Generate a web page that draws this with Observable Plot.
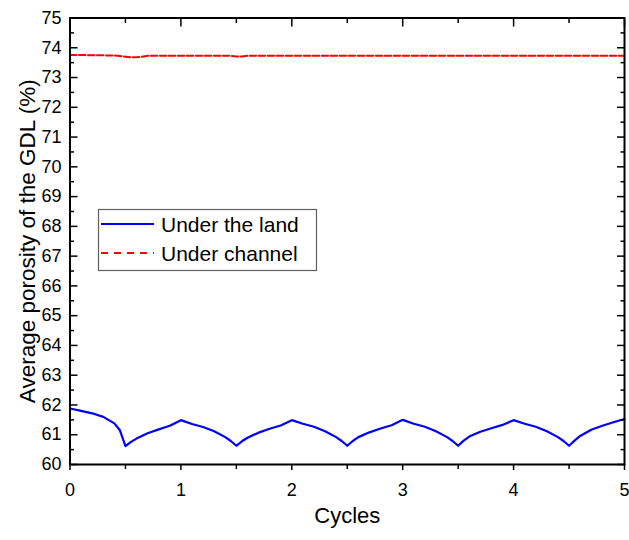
<!DOCTYPE html>
<html>
<head>
<meta charset="utf-8">
<script src="https://cdn.jsdelivr.net/npm/d3@7"></script>
<script src="https://cdn.jsdelivr.net/npm/@observablehq/plot@0.6"></script>
<style>
  html, body { margin: 0; padding: 0; background: #fff; }
  #chart { position: relative; width: 629px; height: 540px; }
</style>
</head>
<body>
<div id="chart"></div>
<script>
// Average GDL porosity over compression cycles
const landCycles = [
  0, 0.1, 0.2, 0.3, 0.4, 0.45, 0.5, 0.55, 0.6, 0.7, 0.8, 0.9,
  1.0, 1.1, 1.2, 1.3, 1.4, 1.45, 1.5, 1.55, 1.6, 1.7, 1.8, 1.9,
  2.0, 2.1, 2.2, 2.3, 2.4, 2.45, 2.5, 2.55, 2.6, 2.7, 2.8, 2.9,
  3.0, 3.1, 3.2, 3.3, 3.4, 3.45, 3.5, 3.55, 3.6, 3.7, 3.8, 3.9,
  4.0, 4.1, 4.2, 4.3, 4.4, 4.45, 4.5, 4.55, 4.6, 4.7, 4.8, 4.9, 5.0
];
const landPorosity = [
  61.88, 61.80, 61.72, 61.60, 61.38, 61.15, 60.62, 60.76, 60.87, 61.05, 61.18, 61.30,
  61.49, 61.36, 61.26, 61.12, 60.92, 60.79, 60.63, 60.78, 60.90, 61.07, 61.20, 61.31,
  61.49, 61.37, 61.27, 61.12, 60.92, 60.79, 60.63, 60.79, 60.92, 61.08, 61.21, 61.32,
  61.50, 61.37, 61.27, 61.12, 60.92, 60.79, 60.63, 60.80, 60.94, 61.10, 61.22, 61.33,
  61.49, 61.37, 61.27, 61.12, 60.92, 60.79, 60.63, 60.80, 60.96, 61.17, 61.30, 61.42, 61.53
];

const channelCycles = [0, 0.2, 0.4, 0.45, 0.5, 0.55, 0.6, 0.65, 0.7, 1.0, 1.45, 1.5, 1.55, 1.6, 2.0, 3.0, 4.0, 5.0];
const channelPorosity = [73.76, 73.75, 73.74, 73.72, 73.70, 73.68, 73.68, 73.70, 73.73, 73.73, 73.73, 73.71, 73.71, 73.73, 73.73, 73.73, 73.73, 73.73];

const xTicks = [0, 1, 2, 3, 4, 5];
const yTicks = [60, 61, 62, 63, 64, 65, 66, 67, 68, 69, 70, 71, 72, 73, 74, 75];
const xMinor = xTicks.slice(0, -1).map(v => v + 0.5);
const yMinor = yTicks.slice(0, -1).map(v => v + 0.5);

const seriesNames = ["Under the land", "Under channel"];
const seriesColors = ["#0000ff", "#ff0000"];

const land = landCycles.map((c, i) => ({cycle: c, porosity: landPorosity[i]}));
const channel = channelCycles.map((c, i) => ({cycle: c, porosity: channelPorosity[i]}));

const FONT = "'Liberation Sans', Arial, sans-serif";
const blank = () => "";

const svg = Plot.plot({
  width: 629,
  height: 540,
  marginLeft: 69.5,
  marginRight: 5,
  marginTop: 17.5,
  marginBottom: 76,
  style: {fontFamily: FONT, color: "black", background: "white", overflow: "visible"},
  x: {domain: [0, 5]},
  y: {domain: [60, 75]},
  marks: [
    Plot.line(channel, {x: "cycle", y: "porosity", stroke: seriesColors[1], strokeWidth: 2, strokeDasharray: "6.5,2.5"}),
    Plot.line(land, {x: "cycle", y: "porosity", stroke: seriesColors[0], strokeWidth: 2.2}),
    // left axis: inward ticks with labels
    Plot.axisY(yTicks, {anchor: "left", tickSize: -8, tickPadding: 16.5, fontSize: 18, strokeWidth: 1.5, label: null}),
    Plot.axisY(yMinor, {anchor: "left", tickSize: -4.5, tickFormat: blank, strokeWidth: 1.5, label: null}),
    // right axis: inward ticks only
    Plot.axisY(yTicks, {anchor: "right", tickSize: -8, tickFormat: blank, strokeWidth: 1.5, label: null}),
    Plot.axisY(yMinor, {anchor: "right", tickSize: -4.5, tickFormat: blank, strokeWidth: 1.5, label: null}),
    // bottom axis: outward ticks with labels
    Plot.axisX(xTicks, {anchor: "bottom", tickSize: 6, tickPadding: 13, fontSize: 18, strokeWidth: 1.5, label: null}),
    Plot.axisX(xMinor, {anchor: "bottom", tickSize: 5, tickFormat: blank, strokeWidth: 1.5, label: null}),
    // top axis: inward ticks only
    Plot.axisX(xTicks, {anchor: "top", tickSize: -8, tickFormat: blank, strokeWidth: 1.5, label: null}),
    Plot.axisX(xMinor, {anchor: "top", tickSize: -4.5, tickFormat: blank, strokeWidth: 1.5, label: null}),
    Plot.frame({stroke: "black", strokeWidth: 2}),
    Plot.text(["Average porosity of the GDL (%)"], {frameAnchor: "left", textAnchor: "middle", rotate: -90, dx: -42, fontSize: 22.5}),
    Plot.text(["Cycles"], {frameAnchor: "bottom", textAnchor: "middle", dy: 58, fontSize: 22})
  ]
});

// Legend box inside the plot area
const legend = d3.select(svg).append("g")
  .attr("font-family", FONT).attr("font-size", 21).attr("text-anchor", "start");
legend.append("rect")
  .attr("x", 98.5).attr("y", 209.5).attr("width", 218).attr("height", 61)
  .attr("fill", "white").attr("stroke", "#606060").attr("stroke-width", 1.2);
const dashes = [null, "7,6"];
seriesNames.forEach((name, i) => {
  const cy = 224 + i * 29;
  legend.append("line")
    .attr("x1", 101).attr("x2", 154).attr("y1", cy).attr("y2", cy)
    .attr("stroke", seriesColors[i]).attr("stroke-width", 2)
    .attr("stroke-dasharray", dashes[i]);
  legend.append("text")
    .attr("x", 161).attr("y", cy + 8).attr("fill", "black")
    .text(name);
});

document.getElementById("chart").append(svg);
</script>
</body>
</html>
